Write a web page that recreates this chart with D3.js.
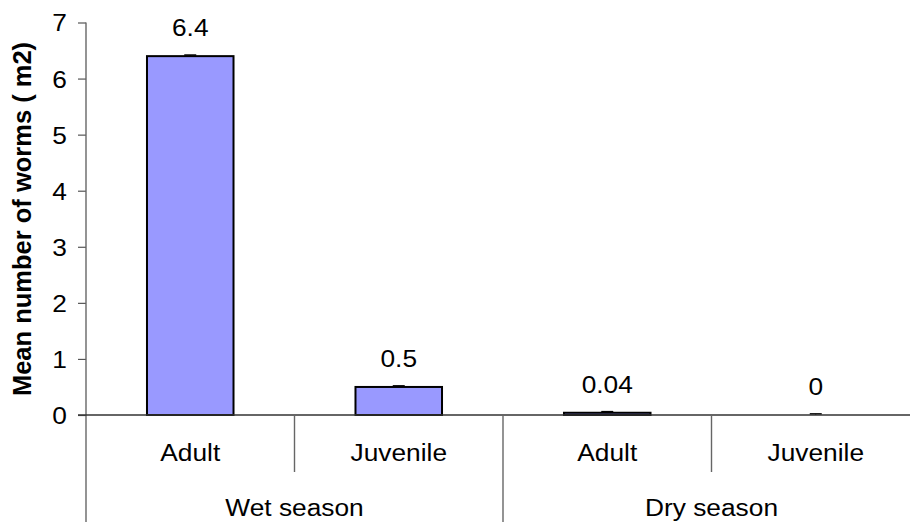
<!DOCTYPE html>
<html><head><meta charset="utf-8">
<script src="https://cdn.jsdelivr.net/npm/d3@7"></script>
<style>body{margin:0;background:#fff}svg{display:block}text{font-family:"Liberation Sans",Arial,sans-serif}</style>
</head><body>
<svg id="c" width="910" height="522"></svg>
<script>
const seasons = ["Wet season", "Dry season"];
const stages = ["Adult", "Juvenile"];
const categories = ["Wet-Adult", "Wet-Juvenile", "Dry-Adult", "Dry-Juvenile"];
const values = [6.4, 0.5, 0.04, 0];
const errors = [0.02, 0.02, 0.02, 0.02];
const valueLabels = ["6.4", "0.5", "0.04", "0"];
const yTicks = [0, 1, 2, 3, 4, 5, 6, 7];

const FS = 23.5, SX = 1.12;
const svg = d3.select("#c");
const x = d3.scaleBand().domain(categories).range([86, 920]).paddingInner(0).paddingOuter(0);
const y = d3.scaleLinear().domain([0, 7]).range([415, 22.5]);
const barW = x.bandwidth() * 0.415;

function label(px, py, txt, anchor) {
  svg.append("g").attr("transform", `translate(${px},${py}) scale(${SX},1)`)
    .append("text").attr("text-anchor", anchor || "middle")
    .attr("font-size", FS).attr("fill", "#000").text(txt);
}

// bars
svg.selectAll("rect.bar").data(values).join("rect")
  .attr("x", (d, i) => x(categories[i]) + x.bandwidth() / 2 - barW / 2)
  .attr("y", d => y(d))
  .attr("width", barW)
  .attr("height", d => y(0) - y(d))
  .attr("fill", "#9999FF")
  .attr("stroke", d => d > 0 ? "#000" : "none")
  .attr("stroke-width", 2);

// error bars
svg.selectAll("g.err").data(values).join("g").each(function (d, i) {
  const cx = x(categories[i]) + x.bandwidth() / 2;
  const g = d3.select(this);
  g.append("line").attr("x1", cx).attr("x2", cx).attr("y1", y(d)).attr("y2", y(d + errors[i])).attr("stroke", "#000").attr("stroke-width", 1);
  g.append("line").attr("x1", cx - 6).attr("x2", cx + 6).attr("y1", y(d + errors[i])).attr("y2", y(d + errors[i])).attr("stroke", "#000").attr("stroke-width", 1.5);
});

// value labels
values.forEach((d, i) => label(x(categories[i]) + x.bandwidth() / 2, y(d) - 20, valueLabels[i]));

// y axis
const yAxis = d3.axisLeft(y).tickValues(yTicks).tickSize(8).tickPadding(11).tickFormat(d3.format("d"));
const ga = svg.append("g").attr("transform", "translate(86,0)").call(yAxis);
ga.select(".domain").remove();
ga.selectAll(".tick line").attr("stroke", "#555").attr("stroke-width", 1.2);
ga.selectAll(".tick text").attr("font-size", FS).attr("font-family", "Liberation Sans, Arial, sans-serif")
  .attr("fill", "#000").attr("dy", "0.36em")
  .attr("transform", function () { const xx = +d3.select(this).attr("x"); return `translate(${xx * (1 - SX)},0) scale(${SX},1)`; });
svg.append("line").attr("x1", 86).attr("x2", 86).attr("y1", y(7)).attr("y2", 522).attr("stroke", "#666").attr("stroke-width", 1.4);

// zero line
svg.append("line").attr("x1", 78).attr("x2", 910).attr("y1", y(0)).attr("y2", y(0)).attr("stroke", "#333").attr("stroke-width", 1.3);

// category separators
categories.forEach((c, i) => {
  if (i === 0) return;
  const xx = x(c);
  const long = i % 2 === 0;
  svg.append("line").attr("x1", xx).attr("x2", xx).attr("y1", y(0)).attr("y2", long ? 522 : 472).attr("stroke", "#666").attr("stroke-width", 1.4);
});

// stage labels
categories.forEach((c, i) => label(x(c) + x.bandwidth() / 2, 461, stages[i % 2]));

// season labels
seasons.forEach((s, k) => {
  const x0 = x(categories[k * 2]);
  const x1 = x(categories[k * 2 + 1]) + x.bandwidth();
  label((x0 + x1) / 2, 516, s);
});

// y title
svg.append("text")
  .attr("transform", "translate(31,219) rotate(-90)")
  .attr("text-anchor", "middle")
  .attr("font-size", 25.5)
  .attr("font-weight", "bold")
  .text("Mean number of worms ( m2)");
</script>
</body></html>
